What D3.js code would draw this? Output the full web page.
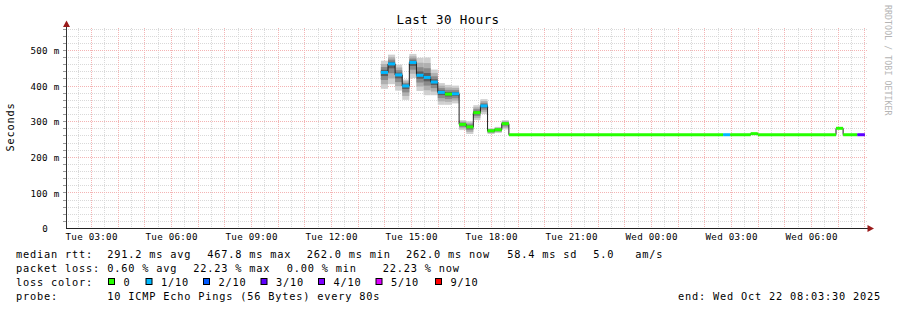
<!DOCTYPE html>
<html>
<head>
<meta charset="utf-8">
<script src="https://cdn.jsdelivr.net/npm/d3@7"></script>
<style>
  body { margin: 0; background: #fff; }
  svg { display: block; font-family: "DejaVu Sans Mono", monospace; }
  text { white-space: pre; }
</style>
</head>
<body>
<svg id="chart" width="897" height="310"></svg>
<script>
// graph window: last 30 hours up to the end time
const endStamp = "2025-10-22 08:03:30";

// one entry per consolidated step (start time), values in ms
const stepStarts = [
  "2025-10-21 13:52", "2025-10-21 14:08", "2025-10-21 14:24", "2025-10-21 14:40",
  "2025-10-21 14:56", "2025-10-21 15:12", "2025-10-21 15:28", "2025-10-21 15:44",
  "2025-10-21 16:00", "2025-10-21 16:16", "2025-10-21 16:32", "2025-10-21 16:48",
  "2025-10-21 17:04", "2025-10-21 17:20", "2025-10-21 17:36", "2025-10-21 17:52",
  "2025-10-21 18:08", "2025-10-21 18:24", "2025-10-21 18:40", "2025-10-22 02:42",
  "2025-10-22 02:58", "2025-10-22 03:44", "2025-10-22 04:00", "2025-10-22 06:56",
  "2025-10-22 07:12", "2025-10-22 07:44"
];
const lastStepEnd = "2025-10-22 08:01";
const medianMs = [437, 461, 430, 399, 465, 429, 423, 410, 381, 376, 377, 291, 284, 324, 343, 273, 276, 293,
                  262, 262, 262, 265, 262, 280, 262, 262];
const smokeLowMs = [391, 404, 386, 360, 421, 385, 373, 373, 346, 346, 350, 275, 264, 303, 320, 264, 267, 277,
                    262, 262, 262, 265, 262, 280, 262, 262];
const smokeHighMs = [470, 487, 459, 417, 489, 478, 479, 445, 407, 402, 400, 303, 300, 345, 362, 280, 284, 303,
                     262, 262, 262, 265, 262, 280, 262, 262];
// index into lossLabels / lossColors
const lossBucket = [1, 1, 1, 1, 1, 1, 1, 1, 1, 0, 1, 0, 0, 0, 1, 0, 0, 0,
                    0, 1, 0, 0, 0, 0, 0, 3];

const lossLabels = ["0", "1/10", "2/10", "3/10", "4/10", "5/10", "9/10"];
const lossColors = ["#26ff00", "#00b8ff", "#0059ff", "#5e00ff", "#7e00ff", "#dd00ff", "#ff0000"];

const yTicks = [0, 0.1, 0.2, 0.3, 0.4, 0.5];
const rttStats = ["291.2 ms avg", "467.8 ms max", "262.0 ms min", "262.0 ms now", "58.4 ms sd", "5.0", "am/s"];
const lossStats = ["0.60 % avg", "22.23 % max", "0.00 % min", "22.23 % now"];
const probeText = "10 ICMP Echo Pings (56 Bytes) every 80s";

const parse = d3.timeParse("%Y-%m-%d %H:%M");
const endTime = d3.timeParse("%Y-%m-%d %H:%M:%S")(endStamp);
const startTime = new Date(+endTime - 30 * 3600 * 1000);

const svg = d3.select("#chart");
const plotLeft = 66, plotRight = 866, plotTop = 28, plotBottom = 228;

const x = d3.scaleTime().domain([startTime, endTime]).range([plotLeft, plotRight]);
const y = d3.scaleLinear().domain([0, 0.5618]).range([plotBottom, plotTop]);
const px = v => Math.round(v) + 0.5;

// grid
const grid = svg.append("g").attr("stroke-dasharray", "1,1").attr("stroke-width", 1);
const halfHours = d3.timeMinute.every(30).range(startTime, endTime).filter(d => d.getMinutes() !== 0);
grid.selectAll(".vmin").data(halfHours).join("line")
  .attr("x1", d => px(x(d))).attr("x2", d => px(x(d)))
  .attr("y1", plotTop).attr("y2", plotBottom).attr("stroke", "#d9d9d9");
const minorLevels = [];
for (let v = 20; v < 562; v += 20) minorLevels.push(v / 1000);
grid.selectAll(".hmin").data(minorLevels.filter(v => Math.round(v * 1000) % 100 !== 0)).join("line")
  .attr("x1", plotLeft).attr("x2", plotRight + 2)
  .attr("y1", d => px(y(d))).attr("y2", d => px(y(d))).attr("stroke", "#d9d9d9");
grid.selectAll(".vmaj").data(d3.timeHour.range(startTime, endTime)).join("line")
  .attr("x1", d => px(x(d))).attr("x2", d => px(x(d)))
  .attr("y1", plotTop).attr("y2", plotBottom).attr("stroke", "#f4b4b4");
grid.selectAll(".hmaj").data(yTicks.slice(1)).join("line")
  .attr("x1", plotLeft).attr("x2", plotRight + 2)
  .attr("y1", d => px(y(d))).attr("y2", d => px(y(d))).attr("stroke", "#f4b4b4");

// y ticks left of axis
svg.append("g").selectAll("line").data(minorLevels).join("line")
  .attr("x1", 63).attr("x2", 66)
  .attr("y1", d => px(y(d))).attr("y2", d => px(y(d)))
  .attr("stroke", "#999");

// data steps
const steps = stepStarts.map((s, i) => ({
  t0: parse(s),
  t1: parse(i + 1 < stepStarts.length ? stepStarts[i + 1] : lastStepEnd),
  med: medianMs[i] / 1000,
  lo: smokeLowMs[i] / 1000,
  hi: smokeHighMs[i] / 1000,
  loss: lossBucket[i]
}));

// smoke: nested shades, darker towards the median
const shades = [[1, "#d0d0d0"], [0.72, "#b0b0b0"], [0.46, "#8a8a8a"], [0.22, "#5e5e5e"]];
const smoke = svg.append("g");
shades.forEach(([f, c]) => {
  smoke.append("g").selectAll("rect").data(steps.filter(d => d.hi > d.lo)).join("rect")
    .attr("x", d => x(d.t0))
    .attr("width", d => x(d.t1) - x(d.t0))
    .attr("y", d => y(d.med + f * (d.hi - d.med)))
    .attr("height", d => y(d.med - f * (d.med - d.lo)) - y(d.med + f * (d.hi - d.med)))
    .attr("fill", c);
});

// dark median line
const medPts = steps.map(d => [d.t0, d.med]);
medPts.push([steps[steps.length - 1].t1, steps[steps.length - 1].med]);
svg.append("path")
  .attr("d", d3.line().x(d => x(d[0])).y(d => y(d[1])).curve(d3.curveStepAfter)(medPts))
  .attr("fill", "none").attr("stroke", "#202020").attr("stroke-width", 1);

// loss-coloured median pieces
svg.append("g").selectAll("line").data(steps).join("line")
  .attr("x1", d => x(d.t0)).attr("x2", d => x(d.t1))
  .attr("y1", d => y(d.med)).attr("y2", d => y(d.med))
  .attr("stroke", d => lossColors[d.loss]).attr("stroke-width", 3);

// axes lines + arrows
svg.append("line").attr("x1", plotLeft + 0.5).attr("x2", plotLeft + 0.5).attr("y1", plotBottom + 0.5).attr("y2", 24)
  .attr("stroke", "#333");
svg.append("line").attr("x1", plotLeft).attr("x2", 869).attr("y1", plotBottom + 0.5).attr("y2", plotBottom + 0.5)
  .attr("stroke", "#222");
svg.append("path").attr("d", "M66.5,20.5L63,27L70,27Z").attr("fill", "#9a1a1a");
svg.append("path").attr("d", "M874,228.5L867.5,225L867.5,232Z").attr("fill", "#9a1a1a");

// tick labels
const xAxis = svg.append("g").attr("transform", `translate(0,${plotBottom})`)
  .call(d3.axisBottom(x)
    .tickValues(d3.timeHour.every(3).range(startTime, endTime))
    .tickFormat(d3.timeFormat("%a %H:%M"))
    .tickSize(0).tickPadding(5.5));
const yAxis = svg.append("g").attr("transform", `translate(${plotLeft},0)`)
  .call(d3.axisLeft(y)
    .tickValues(yTicks)
    .tickFormat(d => d === 0 ? "0\u00a0\u00a0" : Math.round(d * 1000) + " m")
    .tickSize(0).tickPadding(6.5));
[xAxis, yAxis].forEach(a => {
  a.select(".domain").remove();
  a.selectAll("text").attr("font-family", "DejaVu Sans Mono").attr("font-size", 9.2)
    .attr("letter-spacing", 0.26).attr("fill", "#000");
});
yAxis.selectAll("text").attr("dy", "0.4em");

// title + axis title + watermark
svg.append("text").attr("x", 448).attr("y", 24).attr("text-anchor", "middle")
  .attr("font-size", 12.5).attr("letter-spacing", 0.4).text("Last 30 Hours");
svg.append("text").attr("transform", "translate(14,127) rotate(-90)").attr("text-anchor", "middle")
  .attr("font-size", 10.3).attr("letter-spacing", 0.8).text("Seconds");
svg.append("text").attr("transform", "translate(884.5,5) rotate(90)")
  .attr("font-size", 8.2).attr("letter-spacing", 0.1).attr("fill", "#b4b4b4")
  .text("RRDTOOL / TOBI OETIKER");

// legend
const legend = svg.append("g").attr("font-size", 10.3).attr("letter-spacing", 0.8).attr("fill", "#000");
const put = (tx, ty, s) => legend.append("text").attr("x", tx).attr("y", ty).text(s);
put(16, 258, "median rtt:");
[107.3, 207.3, 306.7, 406, 507.3, 593.3, 635.3].forEach((lx, i) => put(lx, 258, rttStats[i]));
put(16, 272, "packet loss:");
[107.3, 193.3, 286.7, 382.7].forEach((lx, i) => put(lx, 272, lossStats[i]));
put(16, 286, "loss color:");
const boxX = [108.5, 146, 203.5, 261, 318.5, 376, 435.5];
lossLabels.forEach((lab, i) => {
  legend.append("rect").attr("x", boxX[i]).attr("y", 278.5).attr("width", 6).attr("height", 6)
    .attr("fill", lossColors[i]).attr("stroke", "#000").attr("stroke-width", 1);
  put(boxX[i] + 15, 286, lab);
});
put(16, 300, "probe:");
put(107.3, 300, probeText);
put(678, 300, "end: Wed Oct 22 08:03:30 2025");
</script>
</body>
</html>
